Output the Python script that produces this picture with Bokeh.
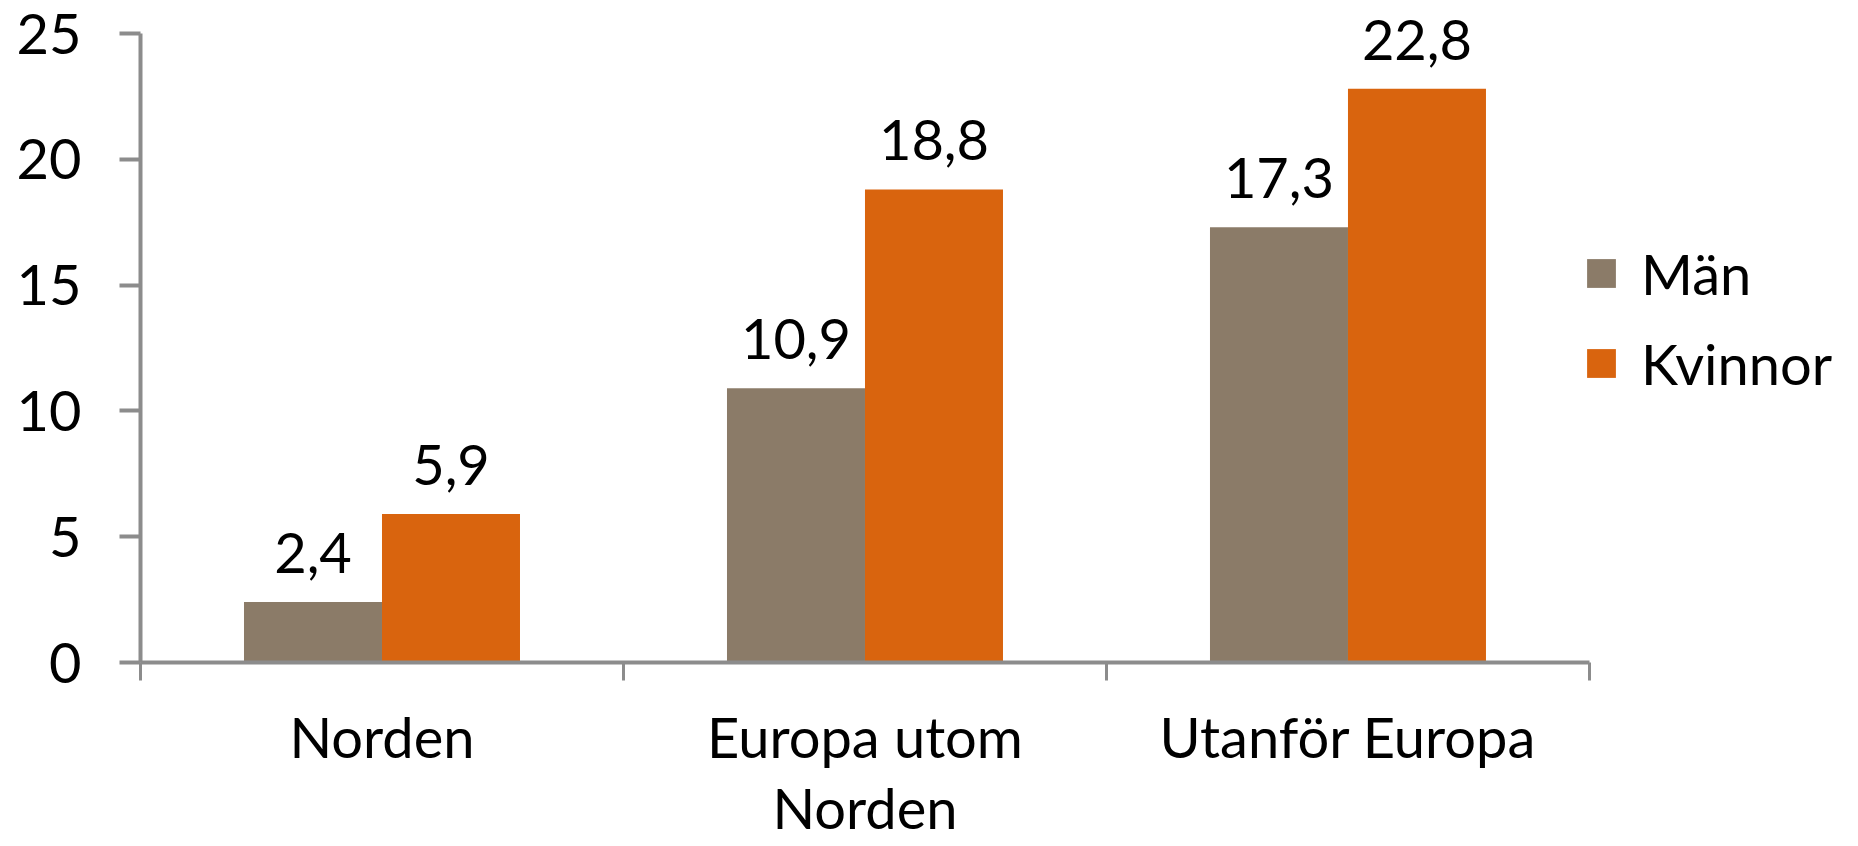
import numpy as np
from bokeh.plotting import figure
from bokeh.models import (ColumnDataSource, FixedTicker, Range1d, Legend, LegendItem, LabelSet)
from bokeh.core.properties import value
from bokeh.embed import file_html
from bokeh.resources import INLINE

categories = ["Norden", "Europa utom\nNorden", "Utanför Europa"]
man = [2.4, 10.9, 17.3]
kvinnor = [5.9, 18.8, 22.8]
series_names = ["Män", "Kvinnor"]
colors = ["#8B7B68", "#D9640E"]
y_ticks = [0, 5, 10, 15, 20, 25]

FONT = "Lato"
FS = "56px"
AXIS_COLOR = "#8c8c8c"

n = len(categories)
centers = np.arange(n) + 0.5
bar_w = 1 / 3.5

p = figure(width=1858, height=846, output_backend="svg", toolbar_location=None,
           x_range=Range1d(0, 3.557), y_range=Range1d(0, 25.835),
           min_border_left=140, min_border_right=0, min_border_top=12,
           min_border_bottom=184)
p.outline_line_color = None
p.xgrid.visible = False
p.ygrid.visible = False
p.background_fill_color = "white"
p.border_fill_color = "white"

src_m = ColumnDataSource(dict(x=centers - bar_w / 2, top=man,
                              lab=[f"{v:.1f}".replace(".", ",") for v in man]))
src_k = ColumnDataSource(dict(x=centers + bar_w / 2, top=kvinnor,
                              lab=[f"{v:.1f}".replace(".", ",") for v in kvinnor]))

r_m = p.vbar(x="x", top="top", bottom=0, width=bar_w, source=src_m,
             fill_color=colors[0], line_color=None)
r_k = p.vbar(x="x", top="top", bottom=0, width=bar_w, source=src_k,
             fill_color=colors[1], line_color=None)

for src in (src_m, src_k):
    ls = LabelSet(x="x", y="top", text="lab", source=src, text_align="center",
                  text_baseline="alphabetic", y_offset=29,
                  text_font=value(FONT), text_font_size=value(FS), text_color="black")
    p.add_layout(ls)

# x axis
xa = p.xaxis[0]
xa.ticker = FixedTicker(ticks=list(centers), minor_ticks=list(np.arange(n + 1)))
xa.major_label_overrides = {float(c): lab for c, lab in zip(centers, categories)}
xa.bounds = (0, n)
xa.axis_line_color = AXIS_COLOR
xa.axis_line_width = 4
xa.major_tick_line_color = None
xa.major_tick_out = 0
xa.major_tick_in = 0
xa.minor_tick_line_color = AXIS_COLOR
xa.minor_tick_line_width = 3
xa.minor_tick_out = 18
xa.minor_tick_in = 0
xa.major_label_standoff = 22
xa.major_label_text_font = FONT
xa.major_label_text_font_size = FS
xa.major_label_text_color = "black"
xa.major_label_text_line_height = 1.07

# y axis
ya = p.yaxis[0]
ya.ticker = FixedTicker(ticks=y_ticks)
ya.bounds = (0, 25)
ya.axis_line_color = AXIS_COLOR
ya.axis_line_width = 4
ya.major_tick_line_color = AXIS_COLOR
ya.major_tick_line_width = 4
ya.major_tick_out = 21
ya.major_tick_in = 0
ya.minor_tick_line_color = None
ya.major_label_standoff = 38
ya.major_label_text_font = FONT
ya.major_label_text_font_size = FS
ya.major_label_text_color = "black"

legend = Legend(items=[LegendItem(label=series_names[0], renderers=[r_m]),
                       LegendItem(label=series_names[1], renderers=[r_k])],
                location=(1443, 263), orientation="vertical",
                glyph_width=36, glyph_height=36, label_height=72,
                label_standoff=22, spacing=18, padding=0, margin=0,
                border_line_color=None, background_fill_alpha=0,
                label_text_font=FONT, label_text_font_size=FS,
                label_text_color="black", label_text_baseline="alphabetic")
p.add_layout(legend)

open("out.html", "w").write(file_html(p, INLINE))
